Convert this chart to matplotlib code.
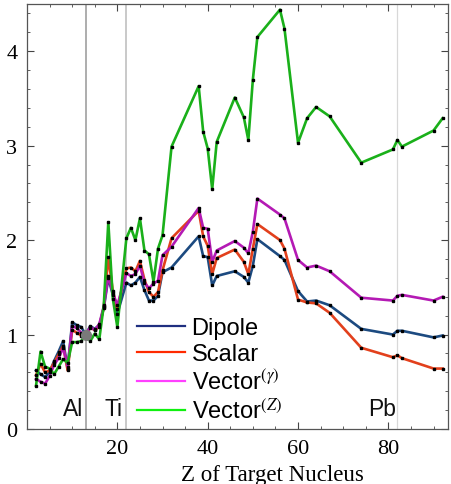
import matplotlib
matplotlib.use("Agg")
import matplotlib.pyplot as plt
from matplotlib.lines import Line2D
from matplotlib.ticker import MultipleLocator

# ---- data ----
Z = [2, 3, 4, 5, 6, 7, 8, 9, 10, 11, 12, 13, 14, 15, 16, 17, 18, 19, 20,
     22, 23, 24, 25, 26, 27, 28, 29, 30, 32, 38, 39, 40, 41, 42, 46, 48, 49,
     50, 51, 56, 57, 60, 62, 64, 67, 74, 81, 82, 83, 90, 92]

dipole = [0.62, 0.58, 0.55, 0.60, 0.72, 0.82, 0.93, 0.64, 1.13, 1.10, 1.08, 1.00,
          1.09, 1.06, 1.10, 1.28, 1.60, 1.42, 1.22,
          1.55, 1.52, 1.55, 1.61, 1.47, 1.36, 1.36, 1.41, 1.66, 1.71,
          2.04, 1.83, 1.82, 1.52, 1.62, 1.67, 1.61, 1.55, 1.73, 2.01,
          1.83, 1.79, 1.46, 1.35, 1.36, 1.31, 1.06, 1.00, 1.04, 1.04, 0.97, 0.99]

scalar = [0.57, 0.69, 0.60, 0.62, 0.70, 0.79, 0.88, 0.62, 1.05, 1.02, 0.99, 1.00,
          1.07, 1.05, 1.08, 1.29, 1.82, 1.46, 1.27,
          1.70, 1.71, 1.67, 1.78, 1.58, 1.45, 1.40, 1.45, 1.68, 2.02,
          2.31, 2.04, 1.94, 1.64, 1.81, 1.90, 1.77, 1.64, 1.91, 2.17,
          2.00, 1.91, 1.37, 1.34, 1.33, 1.23, 0.86, 0.76, 0.78, 0.75, 0.64, 0.64]

vector_gamma = [0.53, 0.50, 0.48, 0.56, 0.68, 0.75, 0.86, 0.66, 1.09, 1.07, 1.02, 1.00,
                1.08, 1.05, 1.11, 1.30, 1.62, 1.44, 1.31,
                1.65, 1.62, 1.64, 1.73, 1.55, 1.49, 1.54, 1.57, 1.84, 1.93,
                2.34, 2.13, 2.12, 1.77, 1.89, 1.99, 1.92, 1.86, 2.09, 2.44,
                2.27, 2.23, 1.79, 1.71, 1.73, 1.67, 1.39, 1.36, 1.41, 1.42, 1.36, 1.40]

vector_z = [0.46, 0.82, 0.66, 0.64, 0.58, 0.66, 0.74, 0.70, 0.92, 0.92, 0.93, 1.00,
            0.93, 1.01, 0.95, 1.31, 2.19, 1.38, 1.08,
            2.02, 2.13, 2.00, 2.23, 1.89, 1.85, 1.56, 1.91, 2.05, 2.99,
            3.63, 3.15, 2.97, 2.54, 3.04, 3.51, 3.30, 3.06, 3.70, 4.15,
            4.44, 4.24, 3.03, 3.29, 3.41, 3.31, 2.82, 2.96, 3.06, 2.99, 3.16, 3.29]

series_names = ["Dipole", "Scalar", r"Vector$^{(\gamma)}$", r"Vector$^{(Z)}$"]
line_colors = ["#1c4a80", "#e2401c", "#b41ab4", "#1ab01a"]
legend_colors = ["#1f2f80", "#ff2a00", "#ff40ff", "#10f010"]

marked_Z = [13, 22, 82]
marked_names = ["Al", "Ti", "Pb"]

# ---- figure ----
plt.rcParams["mathtext.fontset"] = "stix"
fig = plt.figure(figsize=(4.52, 4.85), dpi=100)
ax = fig.add_axes([27 / 452, 1 - 430 / 485, 421 / 452, 425 / 485])

ax.axvline(marked_Z[0], color="#a0a0a0", lw=1.2, zorder=1)
ax.axvline(marked_Z[1], color="#c0c0c0", lw=1.2, zorder=1)
ax.axvline(marked_Z[2], color="#d8d8d8", lw=0.9, zorder=1)

for vals, c in zip([dipole, scalar, vector_gamma, vector_z], line_colors):
    ax.plot(Z, vals, color=c, lw=1.9, zorder=3, solid_joinstyle="round")
    ax.plot(Z, vals, ls="none", marker="s", ms=1.8, color="black", zorder=4)

ax.plot([marked_Z[0]], [1.0], marker="o", ms=7, color="#7a7a7a", zorder=5)

text_pos = [(10.2, 0.22), (19.2, 0.22), (78.7, 0.22)]
for (tx, ty), name in zip(text_pos, marked_names):
    ax.text(tx, ty, name, ha="center", va="center", fontsize=16.5,
            family="Liberation Sans", color="#111111")

ax.set_xlim(0, 93.2)
ax.set_ylim(0, 4.5)
ax.xaxis.set_major_locator(MultipleLocator(20))
ax.xaxis.set_minor_locator(MultipleLocator(5))
ax.yaxis.set_major_locator(MultipleLocator(1))
ax.yaxis.set_minor_locator(MultipleLocator(0.2))
ax.set_xticks([20, 40, 60, 80])
ax.tick_params(which="both", direction="in", top=True, right=True,
               color="#444444", labelsize=16, pad=7)
ax.tick_params(which="major", length=5, width=0.8)
ax.tick_params(which="minor", length=2.5, width=0.6)
for lab in ax.get_xticklabels() + ax.get_yticklabels():
    lab.set_family("Liberation Serif")
for s in ax.spines.values():
    s.set_color("#555555")
    s.set_linewidth(0.9)

ax.set_xlabel("Z of Target Nucleus", fontsize=16.5, family="Liberation Serif")
ax.xaxis.set_label_coords(0.582, -0.083)

handles = [Line2D([], [], color=c, lw=1.6) for c in legend_colors]
ax.legend(handles, series_names, loc="upper left", bbox_to_anchor=(0.262, 0.264),
          frameon=False, prop={"family": "Liberation Sans", "size": 17},
          handlelength=2.0, handletextpad=0.3, labelspacing=0.18,
          borderpad=0, borderaxespad=0)

fig.savefig("out.png", dpi=100)
